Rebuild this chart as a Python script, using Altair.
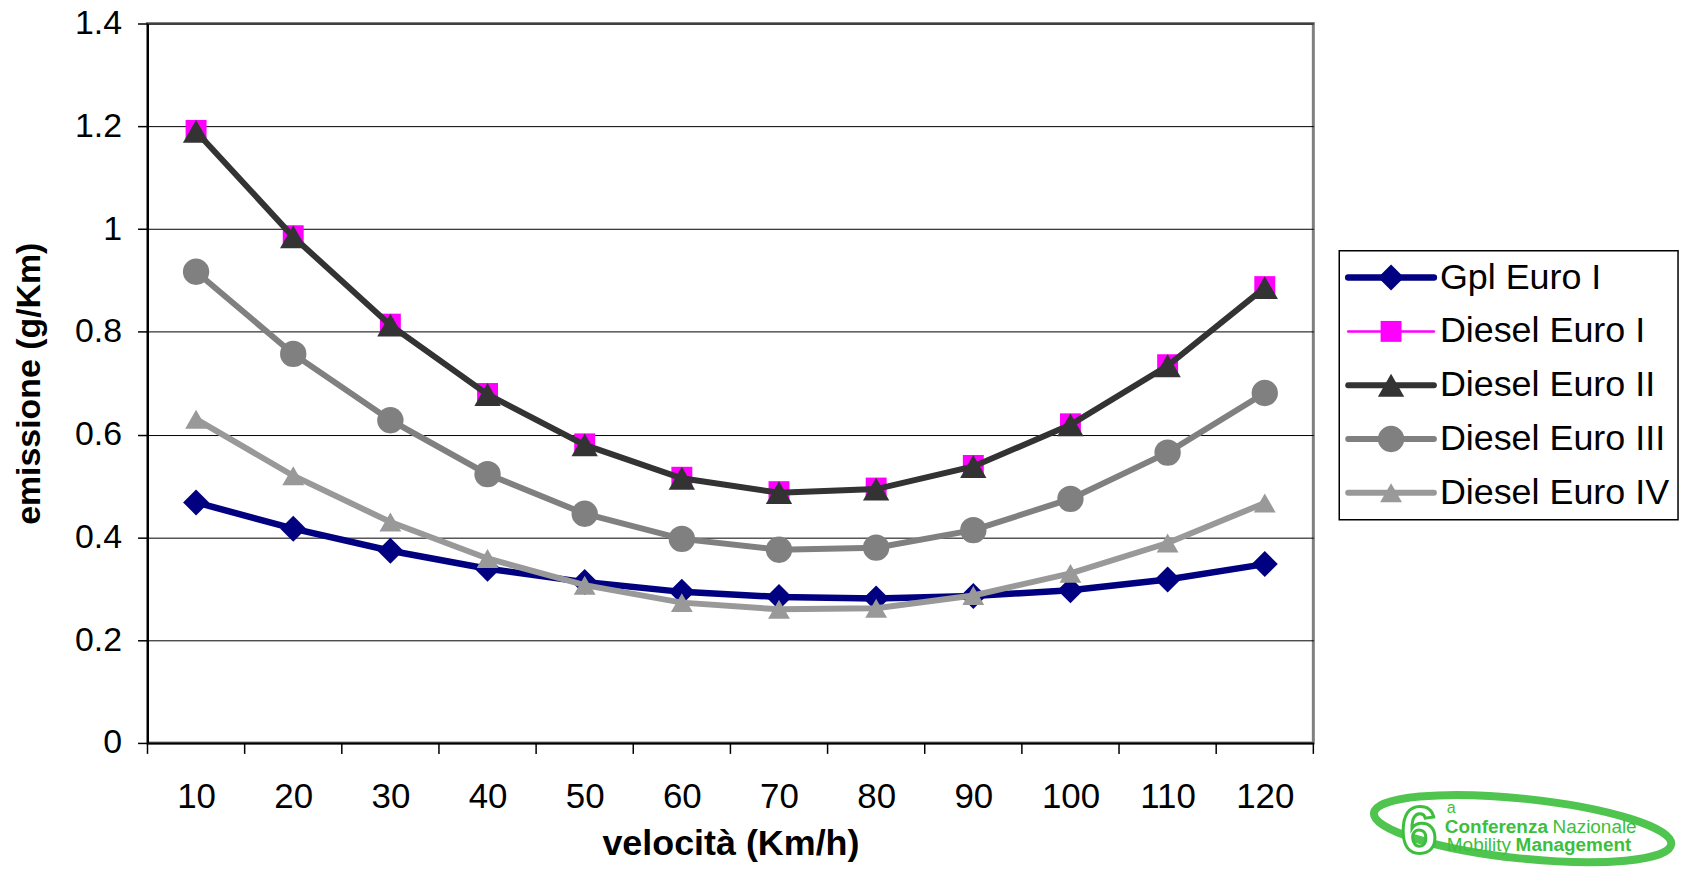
import altair as alt
import pandas as pd

# ---------------- data ----------------
speeds = [10, 20, 30, 40, 50, 60, 70, 80, 90, 100, 110, 120]
series_names = ["Gpl Euro I", "Diesel Euro I", "Diesel Euro II", "Diesel Euro III", "Diesel Euro IV"]
gpl_euro1 = [0.468, 0.417, 0.374, 0.339, 0.313, 0.294, 0.284, 0.281, 0.286, 0.297, 0.318, 0.348]
diesel_euro1 = [1.192, 0.987, 0.815, 0.680, 0.582, 0.517, 0.489, 0.496, 0.540, 0.621, 0.736, 0.888]
diesel_euro2 = [1.190, 0.985, 0.813, 0.678, 0.580, 0.515, 0.487, 0.494, 0.538, 0.619, 0.734, 0.886]
diesel_euro3 = [0.917, 0.757, 0.628, 0.523, 0.446, 0.397, 0.376, 0.380, 0.414, 0.475, 0.565, 0.681]
diesel_euro4 = [0.630, 0.520, 0.430, 0.359, 0.307, 0.273, 0.260, 0.262, 0.287, 0.330, 0.389, 0.467]
y_ticks = [0, 0.2, 0.4, 0.6, 0.8, 1.0, 1.2, 1.4]

# styles
colors = ["#000080", "#FF00FF", "#333333", "#808080", "#999999"]
shapes = ["diamond", "square", "triangle-up", "circle", "triangle-up"]
sizes = [680, 441, 700, 700, 480]
widths = [6.5, 2.5, 6, 6, 6]

values = [gpl_euro1, diesel_euro1, diesel_euro2, diesel_euro3, diesel_euro4]
rows = []
for name, vals in zip(series_names, values):
    for s, v in zip(speeds, vals):
        rows.append({"series": name, "speed": s, "value": v})
df = pd.DataFrame(rows)

# category boundaries for the x tick marks (between categories)
step = speeds[1] - speeds[0]
bounds = [s - step / 2 for s in speeds] + [speeds[-1] + step / 2]
bounds_df = pd.DataFrame({"b": bounds})

FONT = "Liberation Sans"
W, H = 1170, 722

x_enc = alt.X(
    "speed:Q",
    scale=alt.Scale(domain=[bounds[0], bounds[-1]], nice=False, zero=False),
    axis=alt.Axis(
        values=speeds, ticks=False, tickSize=0, grid=False, format="d",
        labelFont=FONT, labelFontSize=35, labelColor="black", labelPadding=54,
        labelBaseline="middle",
        domainColor="black", domainWidth=2,
        title="velocità (Km/h)", titleFont=FONT, titleFontSize=36,
        titleFontWeight="bold", titleColor="black", titlePadding=12,
    ),
)
y_enc = alt.Y(
    "value:Q",
    scale=alt.Scale(domain=[0, 1.4], nice=False),
    axis=alt.Axis(
        values=y_ticks, grid=True, gridColor="black", gridWidth=1, format=".1~f",
        tickSize=10, tickColor="black", tickWidth=1.5,
        labelFont=FONT, labelFontSize=34, labelColor="black", labelPadding=16,
        domainColor="black", domainWidth=2,
        title="emissione (g/Km)", titleFont=FONT, titleFontSize=34,
        titleFontWeight="bold", titleColor="black", titlePadding=28,
    ),
)

base = alt.Chart(df)
layers = []
for name, col, shp, sz, wd in zip(series_names, colors, shapes, sizes, widths):
    sub = base.transform_filter(alt.datum.series == name)
    layers.append(
        sub.mark_line(color=col, strokeWidth=wd).encode(x=x_enc, y=y_enc)
    )
    layers.append(
        sub.mark_point(filled=True, opacity=1, color=col, shape=shp, size=sz).encode(
            x=x_enc, y=y_enc
        )
    )

ticks = alt.Chart(bounds_df).mark_rule(color="black", strokeWidth=1.5).encode(
    x=alt.X("b:Q"),
    y=alt.value(H),
    y2=alt.value(H + 11),
)

main = alt.layer(ticks, *layers).properties(
    width=W, height=H,
    view=alt.ViewBackground(stroke="#808080", strokeWidth=3),
)

# ---------------- legend ----------------
LW, LH = 340, 270
leg_layers = []
for name, col, shp, sz, wd in zip(series_names, colors, shapes, sizes, widths):
    ld = alt.Chart(pd.DataFrame({"series": [name]}))
    ly = alt.Y("series:N", sort=series_names, axis=None,
               scale=alt.Scale(type="point", padding=0.5, domain=series_names))
    leg_layers.append(
        ld.mark_rule(strokeCap="round", color=col, strokeWidth=wd).encode(
            x=alt.value(9), x2=alt.value(95), y=ly)
    )
    leg_layers.append(
        ld.mark_point(filled=True, opacity=1, color=col, shape=shp, size=sz).encode(
            x=alt.value(52), y=ly)
    )
    leg_layers.append(
        ld.mark_text(align="left", baseline="middle", font=FONT, fontSize=36,
                     color="black").encode(x=alt.value(101), y=ly, text="series:N")
    )
legend = alt.layer(*leg_layers).properties(
    width=LW, height=LH,
    view=alt.ViewBackground(stroke="black", strokeWidth=1.5),
)

# ---------------- logo ----------------
GREEN = "#3cbf3c"
LOGO_H = 74
logo_df = pd.DataFrame({"k": [0]})
lb = alt.Chart(logo_df)
ellipse = lb.mark_point(
    shape="M-1,0A1,0.2,0,1,1,1,0A1,0.2,0,1,1,-1,0Z",
    filled=False, color=GREEN, strokeWidth=8, size=300 * 300, angle=6, opacity=0.9,
).encode(x=alt.value(184), y=alt.value(38))
six = lb.mark_text(text="6", font=FONT, fontSize=66, fontWeight="bold",
                   fill="white", stroke=GREEN, strokeWidth=3,
                   align="center", baseline="middle").encode(
    x=alt.value(80), y=alt.value(42))
sup = lb.mark_text(text="a", font=FONT, fontSize=16, color=GREEN,
                   align="left", baseline="middle").encode(
    x=alt.value(108), y=alt.value(17))
t1 = lb.mark_text(text="Conferenza", font=FONT, fontSize=19, fontWeight="bold",
                  color=GREEN, align="left", baseline="middle").encode(
    x=alt.value(106), y=alt.value(36))
t2 = lb.mark_text(text="Nazionale", font=FONT, fontSize=19, color=GREEN,
                  align="left", baseline="middle").encode(
    x=alt.value(214), y=alt.value(36))
t3 = lb.mark_text(text="Mobility", font=FONT, fontSize=19, color=GREEN,
                  align="left", baseline="middle").encode(
    x=alt.value(108), y=alt.value(54))
t4 = lb.mark_text(text="Management", font=FONT, fontSize=19, fontWeight="bold",
                  color=GREEN, align="left", baseline="middle").encode(
    x=alt.value(177), y=alt.value(54))
logo = alt.layer(ellipse, six, sup, t1, t2, t3, t4).properties(
    width=LW, height=LOGO_H,
    view=alt.ViewBackground(stroke="transparent"),
)


def spacer(h):
    return alt.Chart(logo_df).mark_point(opacity=0).encode(
        x=alt.value(5), y=alt.value(5)
    ).properties(width=LW, height=h, view=alt.ViewBackground(stroke="transparent"))


right = alt.vconcat(spacer(226), legend, spacer(256), logo, spacing=0)

chart = alt.hconcat(main, right, spacing=22).properties(
    padding={"top": -5, "left": 3, "right": 0, "bottom": 0}
).configure(font=FONT).configure_view(fill="white")

chart.save("out.html", embed_options={"renderer": "svg", "actions": False})
